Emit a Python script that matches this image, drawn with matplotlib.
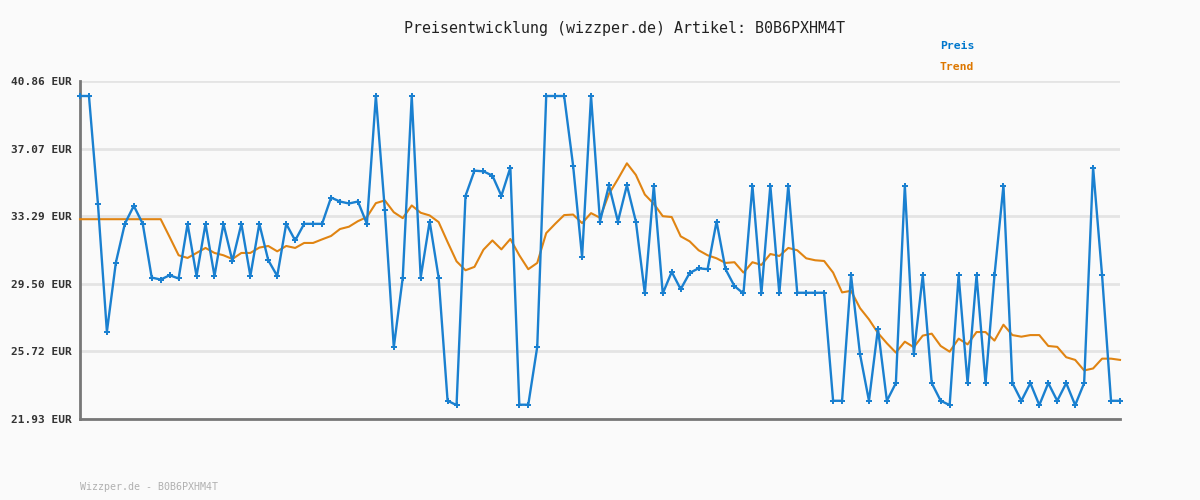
import numpy as np
import matplotlib
matplotlib.use("Agg")
import matplotlib.pyplot as plt

# ===============================
# DATA
# ===============================

preis = [
    40.02, 40.02, 33.98, 26.82, 30.69, 32.86, 33.87, 32.86, 29.85, 29.74,
    29.98, 29.80, 32.86, 29.94, 32.86, 29.94, 32.86, 30.78, 32.86, 29.94,
    32.86, 30.82, 29.94, 32.86, 31.93, 32.86, 32.86, 32.86, 34.33, 34.11,
    34.00, 34.11, 32.86, 40.02, 33.65, 25.95, 29.85, 40.02, 29.85, 32.99,
    29.85, 22.95, 22.71, 34.43, 35.84, 35.80, 35.56, 34.43, 36.01, 22.73,
    22.73, 25.97, 40.02, 40.02, 40.02, 36.12, 31.00, 40.02, 32.99, 35.02,
    32.99, 35.02, 32.99, 28.96, 35.00, 28.96, 30.17, 29.20, 30.11, 30.37,
    30.32, 32.99, 30.32, 29.37, 28.96, 35.00, 28.96, 35.00, 28.96, 35.00,
    29.00, 29.00, 29.00, 29.00, 22.95, 22.95, 29.98, 25.56, 22.95, 26.99,
    22.95, 23.94, 35.00, 25.56, 29.98, 23.94, 22.95, 22.71, 29.98, 23.94,
    29.98, 23.94, 29.98, 35.00, 23.94, 22.95, 23.94, 22.71, 23.94, 22.95,
    23.94, 22.71, 23.94, 36.01, 29.98, 22.95, 22.95,
]

trend = [
    33.12, 33.12, 33.12, 33.12, 33.12, 33.12, 33.12, 33.12, 33.12, 33.12,
    32.12, 31.10, 30.95, 31.23, 31.51, 31.23, 31.10, 30.89, 31.23, 31.23,
    31.53, 31.62, 31.32, 31.62, 31.51, 31.79, 31.79, 31.99, 32.18, 32.57,
    32.70, 33.01, 33.24, 34.02, 34.17, 33.51, 33.18, 33.89, 33.48, 33.33,
    32.96, 31.84, 30.76, 30.26, 30.45, 31.41, 31.93, 31.43, 32.01, 31.10,
    30.32, 30.67, 32.34, 32.86, 33.35, 33.38, 32.90, 33.46, 33.20, 34.54,
    35.37, 36.25, 35.60, 34.50, 33.98, 33.29, 33.24, 32.16, 31.88, 31.38,
    31.10, 30.93, 30.67, 30.71, 30.13, 30.71, 30.56, 31.17, 31.06, 31.51,
    31.38, 30.93, 30.82, 30.78, 30.13, 29.02, 29.11, 28.14, 27.51, 26.75,
    26.17, 25.65, 26.26, 25.95, 26.60, 26.71, 26.02, 25.70, 26.43, 26.11,
    26.80, 26.80, 26.32, 27.21, 26.63, 26.54, 26.63, 26.63, 26.02, 25.97,
    25.39, 25.24, 24.65, 24.76, 25.31, 25.31, 25.24,
]

y_ticks = [21.93, 25.72, 29.50, 33.29, 37.07, 40.86]
artikel = "B0B6PXHM4T"

# ===============================
# PLOTTING
# ===============================

mono = "DejaVu Sans Mono"
blue = "#1a80d0"
orange = "#e08412"

fig = plt.figure(figsize=(12, 5), dpi=100, facecolor="#fafafa")
ax = fig.add_axes([80 / 1200, 81 / 500, 1040 / 1200, 338 / 500])
ax.set_facecolor("#fafafa")

x = np.arange(len(preis))
ax.plot(x, preis, color=blue, lw=1.7, marker="P", ms=4.2, mew=0,
        clip_on=False, zorder=4)
ax.plot(x, trend, color=orange, lw=1.5, clip_on=False, zorder=3)

ax.set_xlim(0, len(preis) - 1)
ax.set_ylim(y_ticks[0], y_ticks[-1])
ax.set_yticks(y_ticks)
ax.set_yticklabels([f"{v:.2f} EUR" for v in y_ticks], family=mono,
                   fontsize=8.0, fontweight="bold", color="#333333")
ax.set_xticks([])
ax.tick_params(axis="y", length=0, pad=6)
ax.grid(axis="y", color="#e4e4e4", lw=2.0)
ax.set_axisbelow(True)

for side in ["top", "right"]:
    ax.spines[side].set_visible(False)
for side in ["left", "bottom"]:
    ax.spines[side].set_color("#777777")
    ax.spines[side].set_linewidth(2.0)

fig.text(624 / 1200, 1 - 28 / 500,
         f"Preisentwicklung (wizzper.de) Artikel: {artikel}",
         family=mono, fontsize=10.8, ha="center", va="center", color="#222222")
fig.text(940 / 1200, 1 - 46 / 500, "Preis", family=mono, fontsize=8.2,
         fontweight="bold", color="#0077cc", ha="left", va="center")
fig.text(940 / 1200, 1 - 67 / 500, "Trend", family=mono, fontsize=8.2,
         fontweight="bold", color="#dd7700", ha="left", va="center")
fig.text(80 / 1200, 1 - 487 / 500, f"Wizzper.de - {artikel}", family=mono,
         fontsize=7.2, color="#b0b0b0", ha="left", va="center")

fig.savefig("out.png", dpi=100, facecolor=fig.get_facecolor())
